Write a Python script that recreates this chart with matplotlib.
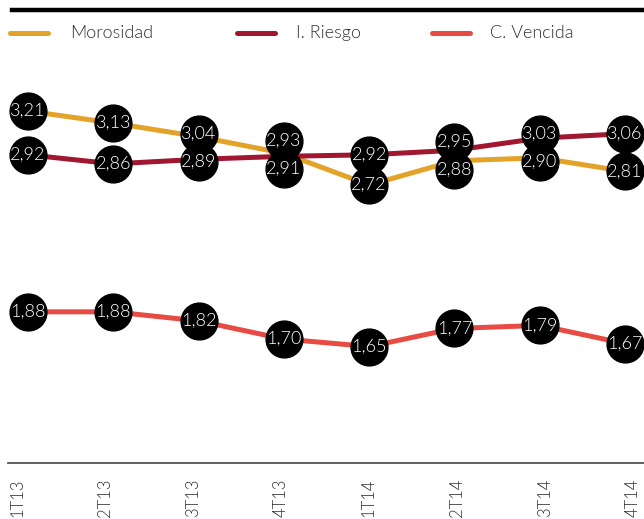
import numpy as np
import matplotlib.pyplot as plt
from matplotlib.lines import Line2D

# datos
quarters = ["1T13", "2T13", "3T13", "4T13", "1T14", "2T14", "3T14", "4T14"]
morosidad = [3.21, 3.13, 3.04, 2.93, 2.72, 2.88, 2.90, 2.81]
i_riesgo = [2.92, 2.86, 2.89, 2.91, 2.92, 2.95, 3.03, 3.06]
c_vencida = [1.88, 1.88, 1.82, 1.70, 1.65, 1.77, 1.79, 1.67]

series_names = ["Morosidad", "I. Riesgo", "C. Vencida"]
colors = ["#E3A328", "#A0172F", "#E84B43"]

plt.rcParams["font.family"] = ["Lato", "DejaVu Sans"]
FW = 300  # Lato Light

W, H = 644, 519
fig = plt.figure(figsize=(W / 100, H / 100), dpi=100)

# area de datos en pixeles
ax_left, ax_right = 8, 644
ax_top, ax_bottom = 60, 463
ax = fig.add_axes([ax_left / W, 1 - ax_bottom / H,
                   (ax_right - ax_left) / W, (ax_bottom - ax_top) / H])

px_per_x = 85.3
px_per_y = 151.0
x = np.arange(len(quarters))
ax.set_xlim(-(28 - ax_left) / px_per_x, 7 + (ax_right - 625) / px_per_x)
ax.set_ylim(3.21 - (ax_bottom - 111) / px_per_y, 3.21 + (111 - ax_top) / px_per_y)

for vals, c in zip([morosidad, i_riesgo, c_vencida], colors):
    ax.plot(x, vals, color=c, lw=3.6, solid_capstyle="round", zorder=2)

# posiciones de etiquetas: separar las que se pisan
min_gap = 28 / px_per_y
mor_lab = np.array(morosidad, dtype=float)
rie_lab = np.array(i_riesgo, dtype=float)
for i in range(len(quarters)):
    hi, lo = max(mor_lab[i], rie_lab[i]), min(mor_lab[i], rie_lab[i])
    if hi - lo < min_gap:
        mid = (hi + lo) / 2
        if mor_lab[i] >= rie_lab[i]:
            mor_lab[i], rie_lab[i] = mid + min_gap / 2, mid - min_gap / 2
        else:
            rie_lab[i], mor_lab[i] = mid + min_gap / 2, mid - min_gap / 2

label_sets = [(mor_lab, morosidad), (rie_lab, i_riesgo), (c_vencida, c_vencida)]
for ys, vals in label_sets:
    ax.plot(x, ys, "o", ms=26.5, color="black", mec="black", ls="none",
            zorder=3, clip_on=False)
for ys, vals in label_sets:
    for xi, yi, v in zip(x, ys, vals):
        ax.text(xi, yi, f"{v:.2f}".replace(".", ","), color="white",
                fontsize=13, fontweight=FW, ha="center", va="center",
                zorder=4)

# ejes
for s in ["top", "right", "left"]:
    ax.spines[s].set_visible(False)
ax.spines["bottom"].set_color("#555555")
ax.spines["bottom"].set_linewidth(1.3)
ax.set_yticks([])
tick_pos = np.linspace(-0.13, 7.09, len(quarters))
ax.set_xticks(tick_pos)
ax.set_xticklabels(quarters, rotation=90, fontsize=12, fontweight=FW,
                   color="#333333")
ax.tick_params(axis="x", length=0, pad=11)

# linea superior
fig.add_artist(Line2D([12 / W, 1], [1 - 10 / H, 1 - 10 / H], color="black",
                      lw=3.2, transform=fig.transFigure))

# leyenda
leg_y = 1 - 33 / H
for name, c, (x0, x1, tx) in zip(series_names, colors,
                                  [(10, 48, 70), (237, 275, 296), (432, 470, 490)]):
    fig.add_artist(Line2D([x0 / W, x1 / W], [leg_y, leg_y], color=c, lw=3.6,
                          solid_capstyle="round", transform=fig.transFigure))
    fig.text(tx / W, leg_y, name, fontsize=13, fontweight=FW,
             color="#333333", ha="left", va="center")

fig.savefig("out.png", dpi=100)
